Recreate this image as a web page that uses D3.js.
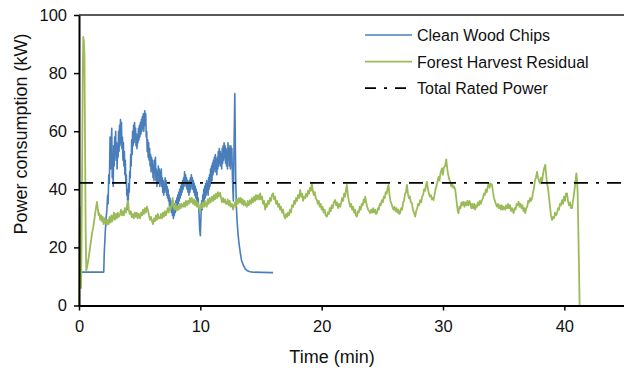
<!DOCTYPE html>
<html>
<head>
<meta charset="utf-8">
<script src="https://cdn.jsdelivr.net/npm/d3@7"></script>
<style>
  body { margin: 0; background: #fff; }
  text { font-family: "Liberation Sans", Arial, sans-serif; fill: #111; }
</style>
</head>
<body>
<svg id="chart" width="624" height="368"></svg>
<script>
// time in minutes, power in kW
const cleanWoodChips = [
  [0, 11.5], [2.04, 11.5], [2.08, 18], [2.15, 24], [2.23, 30], [2.30, 33], [2.36, 38], [2.40, 35], [2.45, 45], [2.50, 42],
  [2.56, 58], [2.60, 47], [2.65, 55], [2.70, 61], [2.74, 44], [2.78, 52], [2.82, 41], [2.86, 55], [2.90, 48], [2.94, 58],
  [2.98, 52], [3.02, 60], [3.06, 50], [3.10, 56], [3.14, 47], [3.18, 55], [3.22, 51], [3.26, 60], [3.30, 53], [3.34, 62],
  [3.38, 55], [3.42, 64], [3.46, 56], [3.50, 63], [3.54, 54], [3.58, 58], [3.62, 50], [3.66, 56], [3.70, 48], [3.74, 53],
  [3.78, 45], [3.82, 50], [3.86, 42], [3.90, 45], [3.94, 38], [3.98, 40], [4.02, 33], [4.06, 36], [4.10, 42], [4.14, 39],
  [4.18, 46], [4.22, 44], [4.26, 52], [4.30, 48], [4.34, 57], [4.38, 52], [4.42, 60], [4.46, 55], [4.50, 62], [4.54, 56],
  [4.58, 63], [4.62, 58], [4.66, 61], [4.70, 55], [4.74, 59], [4.78, 54], [4.82, 58], [4.86, 56], [4.90, 61], [4.94, 57],
  [4.98, 62], [5.02, 58], [5.06, 63], [5.10, 59], [5.14, 64], [5.18, 60], [5.22, 65], [5.26, 61], [5.30, 66], [5.34, 60],
  [5.38, 65], [5.42, 67], [5.46, 62], [5.50, 66], [5.54, 58], [5.58, 60], [5.62, 53], [5.66, 57], [5.70, 51], [5.74, 56],
  [5.78, 50], [5.82, 54], [5.86, 48], [5.90, 52], [5.94, 46], [5.98, 51], [6.02, 47], [6.06, 50], [6.10, 44], [6.14, 48],
  [6.18, 43], [6.22, 50], [6.26, 46], [6.30, 51], [6.34, 43], [6.38, 47], [6.42, 41], [6.46, 46], [6.50, 42], [6.54, 48],
  [6.58, 43], [6.62, 47], [6.66, 41], [6.70, 46], [6.74, 42], [6.78, 47], [6.82, 41], [6.86, 44], [6.90, 39], [6.94, 43],
  [6.98, 38], [7.02, 42], [7.06, 39], [7.10, 44], [7.14, 40], [7.18, 43], [7.22, 38], [7.26, 41], [7.30, 37], [7.34, 40],
  [7.38, 36], [7.42, 38], [7.46, 34], [7.50, 37], [7.54, 33], [7.58, 36], [7.62, 32], [7.66, 35], [7.70, 31], [7.74, 34],
  [7.78, 30], [7.82, 33], [7.86, 31], [7.90, 35], [7.94, 32], [7.98, 36], [8.02, 33], [8.06, 37], [8.10, 34], [8.14, 38],
  [8.18, 35], [8.22, 39], [8.26, 36], [8.30, 40], [8.34, 37], [8.38, 41], [8.42, 38], [8.46, 42], [8.50, 39], [8.54, 43],
  [8.58, 40], [8.62, 44], [8.66, 41], [8.70, 46], [8.74, 42], [8.78, 45], [8.82, 41], [8.86, 44], [8.90, 40], [8.94, 43],
  [8.98, 39], [9.02, 42], [9.06, 38], [9.10, 43], [9.14, 39], [9.18, 44], [9.22, 40], [9.26, 45], [9.30, 41], [9.34, 44],
  [9.38, 40], [9.42, 43], [9.46, 39], [9.50, 42], [9.54, 38], [9.58, 41], [9.62, 37], [9.66, 40], [9.70, 36], [9.74, 39],
  [9.78, 35], [9.82, 37], [9.86, 34], [9.90, 31], [9.95, 26], [10.00, 24], [10.04, 29], [10.08, 34], [10.12, 36], [10.16, 33],
  [10.20, 38], [10.24, 35], [10.28, 40], [10.32, 36], [10.36, 41], [10.40, 37], [10.44, 42], [10.48, 38], [10.52, 43], [10.56, 39],
  [10.60, 42], [10.64, 38], [10.68, 44], [10.72, 40], [10.76, 45], [10.80, 41], [10.84, 47], [10.88, 42], [10.92, 48], [10.96, 43],
  [11.00, 49], [11.04, 45], [11.08, 50], [11.12, 46], [11.16, 51], [11.20, 47], [11.24, 52], [11.28, 46], [11.32, 50], [11.36, 45],
  [11.40, 51], [11.44, 47], [11.48, 53], [11.52, 48], [11.56, 54], [11.60, 49], [11.64, 53], [11.68, 48], [11.72, 52], [11.76, 47],
  [11.80, 54], [11.84, 49], [11.88, 55], [11.92, 50], [11.96, 56], [12.00, 51], [12.04, 55], [12.08, 49], [12.12, 54], [12.16, 48],
  [12.20, 53], [12.24, 47], [12.28, 56], [12.32, 50], [12.36, 55], [12.40, 48], [12.44, 54], [12.48, 47], [12.52, 55], [12.56, 49],
  [12.60, 54], [12.64, 45], [12.68, 40], [12.72, 36], [12.78, 55], [12.84, 73], [12.88, 58], [12.92, 43], [12.97, 34], [13.03, 29],
  [13.10, 25], [13.17, 22], [13.28, 18.5], [13.39, 15.7], [13.55, 13.8], [13.70, 12.6], [13.86, 12], [14.10, 11.6], [14.35, 11.5], [15.0, 11.4],
  [16.0, 11.3]
];

const forestResidual = [
  [0, 0], [0.03, 18], [0.06, 34], [0.09, 12], [0.13, 30], [0.17, 6], [0.21, 22], [0.26, 50], [0.31, 80], [0.35, 92.5],
  [0.40, 91], [0.45, 86], [0.50, 55], [0.55, 25], [0.60, 12], [0.68, 13.5], [0.78, 16], [0.88, 19], [0.98, 22], [1.08, 25],
  [1.18, 27], [1.28, 30], [1.38, 33], [1.48, 35.7], [1.56, 33], [1.62, 31], [1.67, 31.8], [1.75, 29.5], [1.82, 31], [1.90, 29],
  [1.95, 30.6], [2.03, 28], [2.10, 30], [2.17, 28.5], [2.23, 29.4], [2.28, 27.7], [2.36, 29.5], [2.44, 28], [2.52, 30.5], [2.60, 28.5],
  [2.68, 31], [2.75, 29], [2.80, 30], [2.88, 32], [2.96, 29.5], [3.04, 31.5], [3.12, 30], [3.20, 32], [3.28, 30.5], [3.38, 31.3],
  [3.46, 33], [3.54, 31], [3.62, 32.5], [3.70, 31], [3.78, 33.5], [3.86, 32], [3.94, 34], [4.04, 36], [4.10, 33], [4.18, 31.5],
  [4.26, 32.5], [4.35, 30.4], [4.43, 31.5], [4.51, 30], [4.60, 32], [4.68, 30.5], [4.76, 32], [4.84, 30], [4.92, 31.5], [5.03, 30],
  [5.11, 32], [5.19, 31], [5.27, 33], [5.35, 31.5], [5.43, 33.5], [5.51, 32], [5.60, 34], [5.69, 32.7], [5.77, 31], [5.85, 29.5],
  [5.93, 30.5], [6.02, 29], [6.10, 28], [6.18, 30], [6.26, 29], [6.34, 31], [6.42, 29.5], [6.50, 31.5], [6.58, 30], [6.68, 30],
  [6.76, 31.5], [6.84, 30], [6.92, 32], [7.00, 30.5], [7.08, 32.5], [7.16, 31], [7.23, 32], [7.31, 33.5], [7.39, 32], [7.47, 34],
  [7.55, 33], [7.65, 35], [7.72, 37], [7.80, 34], [7.88, 33], [7.96, 35], [8.06, 32.7], [8.14, 34], [8.22, 33], [8.30, 35],
  [8.38, 33.5], [8.46, 35], [8.58, 34], [8.66, 35.5], [8.74, 34], [8.82, 36], [8.90, 34.5], [8.98, 36], [9.06, 35], [9.14, 37],
  [9.22, 35.5], [9.30, 37], [9.40, 35], [9.48, 36.5], [9.56, 34.5], [9.64, 36], [9.72, 34], [9.80, 35.5], [9.88, 33.5], [9.98, 33],
  [10.06, 35], [10.14, 33.5], [10.22, 35.5], [10.30, 34], [10.38, 36], [10.46, 34.5], [10.53, 34], [10.61, 36.5], [10.69, 35], [10.77, 37],
  [10.85, 35.5], [10.95, 37.5], [11.05, 36], [11.13, 38], [11.21, 36.5], [11.29, 38.5], [11.37, 37], [11.45, 39], [11.53, 37.5], [11.63, 38.8],
  [11.71, 37], [11.79, 35.5], [11.87, 37], [11.95, 35.5], [12.03, 36.5], [12.11, 35], [12.18, 35], [12.26, 36.5], [12.34, 34.5], [12.42, 36],
  [12.50, 34], [12.60, 35], [12.70, 33], [12.78, 34.5], [12.86, 35.5], [12.94, 34], [13.01, 36.5], [13.09, 35], [13.17, 37], [13.25, 35.5],
  [13.33, 37], [13.41, 35], [13.49, 36.5], [13.57, 34.5], [13.65, 36], [13.75, 34.5], [13.83, 34], [13.91, 36], [13.99, 34.5], [14.10, 36.3],
  [14.18, 35], [14.26, 37], [14.35, 35.5], [14.43, 37.5], [14.51, 36], [14.59, 38], [14.67, 36.5], [14.75, 38], [14.85, 36.5], [14.93, 38.6],
  [15.01, 36.5], [15.09, 37.5], [15.17, 35], [15.25, 36], [15.34, 33], [15.42, 35], [15.50, 34], [15.58, 36], [15.66, 35], [15.74, 37],
  [15.82, 36], [15.90, 38], [16.00, 38.6], [16.08, 36.5], [16.16, 37.5], [16.24, 35], [16.32, 36], [16.41, 34], [16.49, 35], [16.57, 33],
  [16.65, 34], [16.73, 32], [16.81, 33], [16.90, 31], [16.99, 30], [17.07, 31.5], [17.15, 30.5], [17.23, 32], [17.31, 31], [17.39, 33],
  [17.47, 32], [17.56, 34.5], [17.65, 34], [17.73, 36], [17.81, 35], [17.89, 37], [17.97, 36], [18.05, 38], [18.13, 37], [18.23, 39.8],
  [18.31, 37.5], [18.39, 38.5], [18.47, 36], [18.55, 37.5], [18.64, 37], [18.72, 38.5], [18.80, 37.5], [18.88, 39.5], [18.96, 38.5], [19.04, 40.5],
  [19.12, 39.5], [19.19, 42.1], [19.27, 39.5], [19.35, 38], [19.43, 39], [19.51, 37], [19.60, 36.3], [19.68, 35], [19.76, 36], [19.84, 34],
  [19.92, 35], [20.00, 33], [20.08, 34], [20.16, 32], [20.24, 33], [20.33, 31], [20.43, 30.6], [20.51, 32], [20.59, 31.5], [20.67, 33.5],
  [20.75, 32.5], [20.83, 34.5], [20.91, 33.5], [21.00, 35.5], [21.11, 36.3], [21.19, 34.5], [21.27, 35.5], [21.35, 33.5], [21.43, 35], [21.53, 34],
  [21.61, 35.5], [21.69, 37], [21.77, 36], [21.85, 38.5], [21.93, 37.5], [22.01, 40], [22.08, 41.5], [22.16, 38], [22.24, 36], [22.35, 34],
  [22.43, 35], [22.51, 33], [22.59, 34], [22.67, 32], [22.75, 33], [22.82, 31], [22.90, 30.6], [22.98, 32.5], [23.06, 32], [23.14, 34],
  [23.22, 33], [23.30, 35], [23.38, 34.5], [23.46, 36.5], [23.52, 35.5], [23.59, 37.5], [23.67, 35.5], [23.75, 34], [23.83, 33], [23.91, 32.5],
  [24.00, 31.8], [24.08, 33], [24.16, 32], [24.24, 33.5], [24.32, 32], [24.40, 33], [24.48, 31.5], [24.55, 31.8], [24.63, 33.5], [24.71, 33],
  [24.79, 35], [24.87, 34.5], [24.96, 36.3], [25.04, 35.5], [25.12, 37.5], [25.20, 37], [25.28, 39], [25.36, 38.5], [25.44, 40.5], [25.51, 41.5],
  [25.59, 38], [25.67, 36], [25.75, 35], [25.83, 34], [25.92, 33], [26.00, 34], [26.08, 32.5], [26.16, 33.5], [26.24, 32], [26.32, 33],
  [26.40, 31.5], [26.47, 31.8], [26.55, 33.5], [26.63, 33], [26.71, 35.5], [26.79, 36], [26.87, 38.5], [26.95, 39], [27.03, 41.5], [27.11, 38.5],
  [27.19, 37], [27.27, 37.5], [27.35, 35.5], [27.44, 35.2], [27.52, 33], [27.60, 32], [27.71, 30.6], [27.79, 32.5], [27.87, 33.5], [27.95, 35],
  [28.03, 34.5], [28.12, 36.3], [28.20, 35.5], [28.28, 37.5], [28.36, 38], [28.44, 40], [28.52, 39.5], [28.60, 41.5], [28.68, 42.6], [28.76, 40],
  [28.84, 38.5], [28.92, 37.5], [29.00, 38], [29.08, 36.5], [29.14, 37], [29.22, 36.3], [29.30, 38], [29.38, 40], [29.46, 41], [29.54, 42.5],
  [29.63, 44.3], [29.71, 43], [29.79, 45.5], [29.91, 47.2], [29.99, 45], [30.07, 47.5], [30.17, 48], [30.27, 50.3], [30.35, 47], [30.43, 45],
  [30.51, 43.5], [30.60, 42.6], [30.68, 41], [30.76, 42], [30.84, 40.5], [30.92, 41], [31.01, 39.8], [31.09, 37], [31.17, 34], [31.22, 32.5],
  [31.28, 31.8], [31.36, 34], [31.44, 33.5], [31.52, 35.5], [31.60, 34.5], [31.69, 35.7], [31.77, 34], [31.85, 35.5], [31.93, 34.5], [32.01, 36],
  [32.09, 34.5], [32.17, 36], [32.25, 35.2], [32.33, 33.5], [32.41, 35], [32.49, 33.5], [32.57, 35], [32.65, 33], [32.73, 34.5], [32.80, 34],
  [32.88, 35.5], [32.96, 34.5], [33.04, 36], [33.12, 35], [33.21, 36.3], [33.29, 37], [33.37, 38.5], [33.45, 38], [33.53, 40], [33.61, 39],
  [33.69, 41], [33.76, 42], [33.84, 40.5], [33.92, 42], [34.04, 41.5], [34.12, 39], [34.20, 37], [34.28, 36], [34.36, 35], [34.45, 34],
  [34.53, 35], [34.61, 33.5], [34.69, 34.5], [34.77, 33], [34.85, 34.5], [34.93, 33], [35.01, 34], [35.13, 33], [35.21, 34.5], [35.29, 33.5],
  [35.37, 35], [35.45, 33.5], [35.53, 34.5], [35.61, 32.5], [35.69, 33.5], [35.82, 31.8], [35.90, 33.5], [35.98, 33], [36.06, 35], [36.14, 34.5],
  [36.23, 35.7], [36.31, 34], [36.39, 35], [36.47, 33.5], [36.55, 34.5], [36.63, 32.5], [36.70, 33.5], [36.78, 31.8], [36.86, 33.5], [36.94, 34],
  [37.02, 36], [37.10, 35.5], [37.18, 37], [37.26, 36], [37.34, 37], [37.42, 39], [37.50, 40.5], [37.58, 43], [37.66, 44], [37.75, 46],
  [37.83, 44], [37.91, 43], [37.99, 42], [38.08, 44], [38.16, 42.6], [38.24, 45], [38.32, 47], [38.43, 48.4], [38.50, 45], [38.58, 42],
  [38.66, 40.3], [38.74, 37], [38.82, 34], [38.90, 31], [38.99, 29.4], [39.07, 30.5], [39.15, 30], [39.23, 32], [39.31, 31], [39.40, 31.8],
  [39.48, 33.5], [39.56, 33], [39.64, 35], [39.72, 34.5], [39.81, 36.3], [39.89, 35], [39.97, 37.5], [40.05, 36], [40.13, 38.5], [40.22, 38.6],
  [40.30, 36], [40.38, 34.5], [40.46, 35.5], [40.54, 33.5], [40.63, 33.5], [40.71, 36], [40.77, 37.5], [40.82, 39.2], [40.90, 42], [40.99, 45.5],
  [41.05, 43], [41.10, 38.6], [41.18, 20], [41.26, 0]
];

const ratedPower = 42.2;
const xTicks = [0, 10, 20, 30, 40];
const yTicks = [0, 20, 40, 60, 80, 100];
const seriesNames = ["Clean Wood Chips", "Forest Harvest Residual", "Total Rated Power"];
const seriesColors = ["#4a7ebb", "#9bbb59", "#000"];

const svg = d3.select("#chart");

const x = d3.scaleLinear().domain([0, 45]).range([79, 625]);
const y = d3.scaleLinear().domain([0, 100]).range([305.5, 15]);

// top frame line
svg.append("line")
    .attr("x1", x(0)).attr("x2", 624)
    .attr("y1", y(100)).attr("y2", y(100))
    .attr("stroke", "#222")
    .attr("stroke-width", 1.5);

let line = d3.line()
    .x(function(d) { return x(d[0]); })
    .y(function(d) { return y(d[1]); });

svg.append("path")
    .datum(cleanWoodChips)
    .attr("d", line)
    .attr("fill", "none")
    .attr("stroke", seriesColors[0])
    .attr("stroke-width", 1.6)
    .attr("stroke-linejoin", "round");

svg.append("path")
    .datum(forestResidual)
    .attr("d", line)
    .attr("fill", "none")
    .attr("stroke", seriesColors[1])
    .attr("stroke-width", 1.8)
    .attr("stroke-linejoin", "round");

// rated power, dash-dot
svg.append("line")
    .attr("x1", x(0)).attr("x2", 624)
    .attr("y1", y(ratedPower)).attr("y2", y(ratedPower))
    .attr("stroke", seriesColors[2])
    .attr("stroke-width", 1.8)
    .attr("stroke-dasharray", "14,8,3,8");

// axes
let xAxis = svg.append("g")
    .attr("transform", "translate(0," + y(0) + ")")
    .call(d3.axisBottom(x).tickValues(xTicks).tickSizeInner(5).tickSizeOuter(0).tickPadding(10));

let yAxis = svg.append("g")
    .attr("transform", "translate(" + x(0) + ",0)")
    .call(d3.axisLeft(y).tickValues(yTicks).tickSizeInner(5).tickSizeOuter(0).tickPadding(7));

[xAxis, yAxis].forEach(function(g) {
    g.select(".domain").attr("stroke", "#000").attr("stroke-width", 2);
    g.selectAll(".tick line").attr("stroke", "#000").attr("stroke-width", 1.5);
    g.selectAll(".tick text")
        .attr("font-family", "Liberation Sans, Arial, sans-serif")
        .attr("font-size", 16.5)
        .attr("fill", "#111");
});

// axis titles
svg.append("text")
    .attr("x", 332).attr("y", 363)
    .attr("text-anchor", "middle")
    .attr("font-size", 18)
    .text("Time (min)");

svg.append("text")
    .attr("transform", "translate(27,134) rotate(-90)")
    .attr("text-anchor", "middle")
    .attr("font-size", 18)
    .text("Power consumption (kW)");

// legend
let legend = svg.append("g");
seriesNames.forEach(function(name, i) {
    let ly = 35 + i * 26.6;
    legend.append("line")
        .attr("x1", 365).attr("x2", 412)
        .attr("y1", ly).attr("y2", ly)
        .attr("stroke", seriesColors[i])
        .attr("stroke-width", i === 2 ? 1.8 : 1.6)
        .attr("stroke-dasharray", i === 2 ? "11,8,3,8" : null);
    legend.append("text")
        .attr("x", 417).attr("y", ly + 6)
        .attr("font-size", 16)
        .text(name);
});
</script>
</body>
</html>
